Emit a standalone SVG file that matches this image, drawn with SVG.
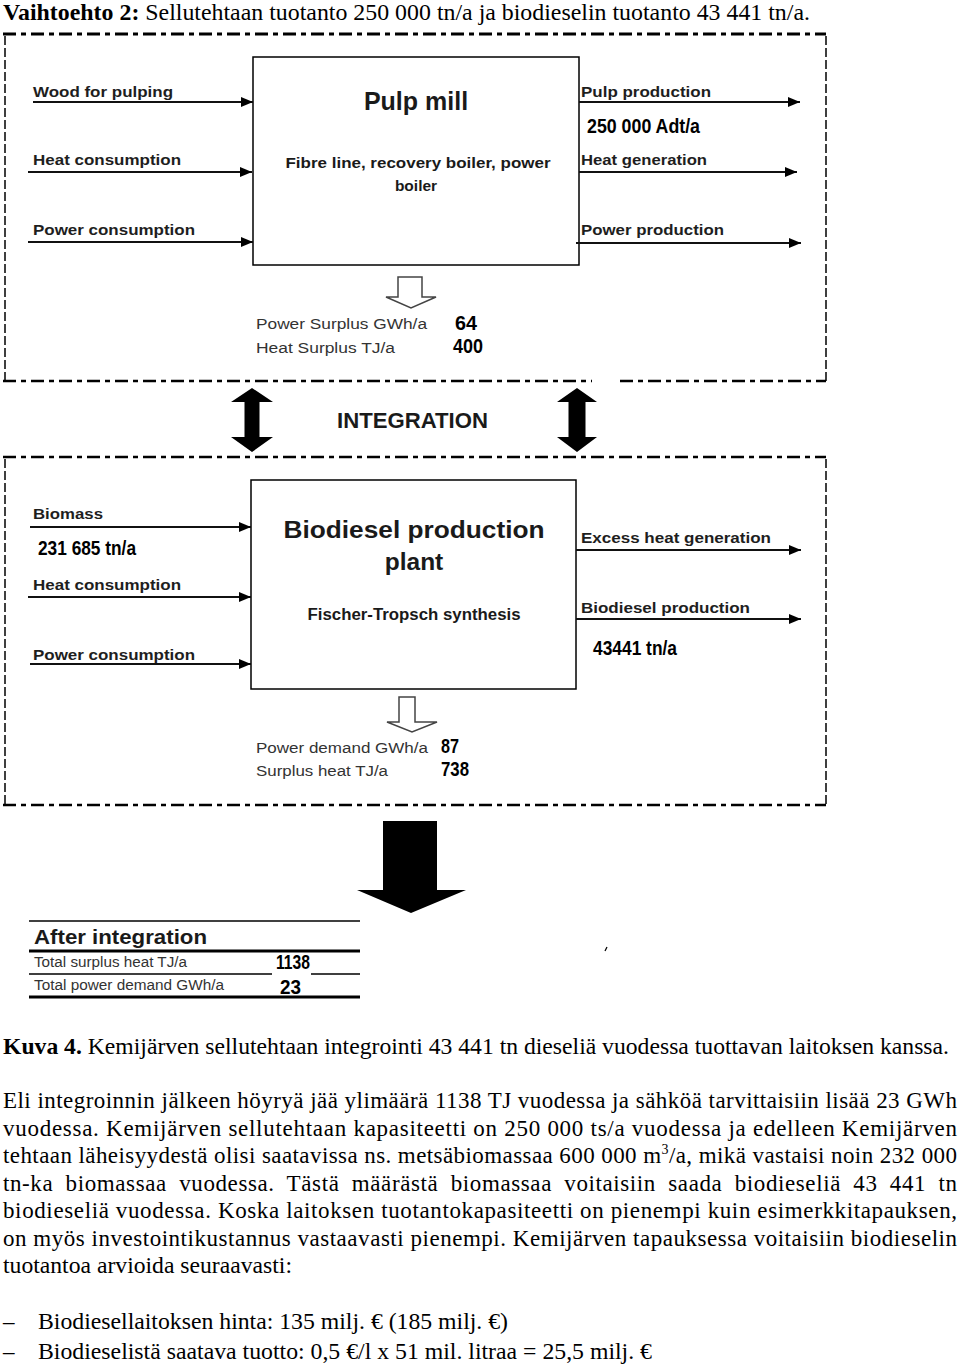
<svg xmlns="http://www.w3.org/2000/svg" width="960" height="1364" viewBox="0 0 960 1364">
<style>
.lbl{font-family:"Liberation Sans",Arial,sans-serif;font-weight:bold;font-size:15.5px;fill:#1e1e1e}
.gl{font-family:"Liberation Sans",Arial,sans-serif;font-size:15.5px;fill:#333}
.ttl{font-family:"Liberation Sans",Arial,sans-serif;font-weight:bold;fill:#1a1a1a}
.num{font-family:"Liberation Sans Narrow","Liberation Sans",Arial,sans-serif;font-weight:bold;fill:#000}
.body{font-family:"Liberation Serif","Times New Roman",serif;font-size:23px;fill:#000}
.b{font-weight:bold}
.flow{stroke:#111;stroke-width:2;fill:none;marker-end:url(#ah)}
.dd{stroke:#000;stroke-width:3;stroke-dasharray:13 5 5 5;fill:none}
.dv{stroke:#000;stroke-width:1.5;stroke-dasharray:9 3;fill:none}
.box{fill:#fff;stroke:#000;stroke-width:1.5}
.hollow{fill:#fff;stroke:#444;stroke-width:1.5}
.tl{stroke:#000;fill:none}
</style>
<defs>
<marker id="ah" viewBox="0 0 12 11" refX="12" refY="5.5" markerWidth="12" markerHeight="11" markerUnits="userSpaceOnUse" orient="auto">
<path d="M0,0.5 L12,5.5 L0,10.5 z" fill="#000"/>
</marker>
</defs>
<rect width="960" height="1364" fill="#fff"/>

<text class="body" x="3" y="20" textLength="807" lengthAdjust="spacingAndGlyphs"><tspan class="b">Vaihtoehto 2:</tspan> Sellutehtaan tuotanto 250 000 tn/a ja biodieselin tuotanto 43 441 tn/a.</text>

<g id="frame-pulp">
<path class="dd" d="M3,34 H826"/>
<path class="dv" d="M5,36 V381"/>
<path class="dv" d="M826,36 V381"/>
<path class="dd" d="M3,381 H592 M620,381 H826" style="stroke-width:2.5"/>
</g>

<g id="pulp-mill">
<rect class="box" x="253" y="57" width="326" height="208"/>
<text class="ttl" x="416" y="110" font-size="25" text-anchor="middle">Pulp mill</text>
<text class="ttl" x="418" y="168" font-size="15.5" text-anchor="middle" textLength="265" lengthAdjust="spacingAndGlyphs">Fibre line, recovery boiler, power</text>
<text class="ttl" x="416" y="191" font-size="15.5" text-anchor="middle">boiler</text>
</g>

<g id="pulp-labels">
<text class="lbl" x="33" y="97" textLength="140" lengthAdjust="spacingAndGlyphs">Wood for pulping</text>
<text class="lbl" x="33" y="165" textLength="148" lengthAdjust="spacingAndGlyphs">Heat consumption</text>
<text class="lbl" x="33" y="235" textLength="162" lengthAdjust="spacingAndGlyphs">Power consumption</text>
<text class="lbl" x="581" y="97" textLength="130" lengthAdjust="spacingAndGlyphs">Pulp production</text>
<text class="num" x="587" y="133" font-size="21" textLength="113" lengthAdjust="spacingAndGlyphs">250 000 Adt/a</text>
<text class="lbl" x="581" y="165" textLength="126" lengthAdjust="spacingAndGlyphs">Heat generation</text>
<text class="lbl" x="581" y="235" textLength="143" lengthAdjust="spacingAndGlyphs">Power production</text>
</g>

<g id="pulp-surplus">
<polygon class="hollow" points="398,277 422,277 422,297 436,297 411,308 386,297 398,297"/>
<text class="gl" x="256" y="329" textLength="171" lengthAdjust="spacingAndGlyphs">Power Surplus  GWh/a</text>
<text class="gl" x="256" y="353" textLength="139" lengthAdjust="spacingAndGlyphs">Heat Surplus TJ/a</text>
<text class="num" x="455" y="330" font-size="20" textLength="22" lengthAdjust="spacingAndGlyphs">64</text>
<text class="num" x="453" y="353" font-size="20" textLength="30" lengthAdjust="spacingAndGlyphs">400</text>
</g>

<g id="integration">
<polygon fill="#000" points="252,388 273,402 259.5,402 259.5,437 273,437 252,452 231,437 244.5,437 244.5,402 231,402"/>
<polygon fill="#000" points="577,388 597,402 585.5,402 585.5,437 597,437 577,452 557,437 568.5,437 568.5,402 557,402"/>
<text class="ttl" x="337" y="428" font-size="22" fill="#222" textLength="151" lengthAdjust="spacingAndGlyphs">INTEGRATION</text>
</g>

<g id="frame-biodiesel">
<path class="dd" d="M3,457 H826" style="stroke-width:2.5"/>
<path class="dv" d="M5,459 V805"/>
<path class="dv" d="M826,459 V805"/>
<path class="dd" d="M3,805 H826" style="stroke-width:2.5"/>
</g>

<g id="biodiesel-plant">
<rect class="box" x="251" y="480" width="325" height="209"/>
<text class="ttl" x="414" y="538" font-size="24.5" text-anchor="middle" textLength="261" lengthAdjust="spacingAndGlyphs">Biodiesel production</text>
<text class="ttl" x="414" y="570" font-size="24.5" text-anchor="middle">plant</text>
<text class="ttl" x="414" y="620" font-size="16" text-anchor="middle" textLength="213" lengthAdjust="spacingAndGlyphs" fill="#222">Fischer-Tropsch synthesis</text>
</g>

<g id="biodiesel-labels">
<text class="lbl" x="33" y="519" textLength="70" lengthAdjust="spacingAndGlyphs">Biomass</text>
<text class="num" x="38" y="555" font-size="20" textLength="98" lengthAdjust="spacingAndGlyphs">231 685 tn/a</text>
<text class="lbl" x="33" y="590" textLength="148" lengthAdjust="spacingAndGlyphs">Heat consumption</text>
<text class="lbl" x="33" y="660" textLength="162" lengthAdjust="spacingAndGlyphs">Power consumption</text>
<text class="lbl" x="581" y="543" textLength="190" lengthAdjust="spacingAndGlyphs">Excess heat generation</text>
<text class="lbl" x="581" y="613" textLength="169" lengthAdjust="spacingAndGlyphs">Biodiesel production</text>
<text class="num" x="593" y="655" font-size="20" textLength="84" lengthAdjust="spacingAndGlyphs">43441 tn/a</text>
</g>

<g id="biodiesel-demand">
<polygon class="hollow" points="399,697 415,697 415,722 437,722 412,732 387,722 399,722"/>
<text class="gl" x="256" y="753" textLength="172" lengthAdjust="spacingAndGlyphs">Power demand GWh/a</text>
<text class="gl" x="256" y="776" textLength="132" lengthAdjust="spacingAndGlyphs">Surplus heat TJ/a</text>
<text class="num" x="441" y="753" font-size="20" textLength="18" lengthAdjust="spacingAndGlyphs">87</text>
<text class="num" x="441" y="776" font-size="20" textLength="28" lengthAdjust="spacingAndGlyphs">738</text>
</g>

<g id="connectors">
<line class="flow" x1="33" y1="102" x2="253" y2="102"/>
<line class="flow" x1="28" y1="172" x2="252" y2="172"/>
<line class="flow" x1="28" y1="242" x2="253" y2="242"/>
<line class="flow" x1="579" y1="102" x2="800" y2="102"/>
<line class="flow" x1="579" y1="172" x2="797" y2="172"/>
<line class="flow" x1="576" y1="243" x2="801" y2="243"/>
<line class="flow" x1="30" y1="527" x2="251" y2="527"/>
<line class="flow" x1="28" y1="597" x2="251" y2="597"/>
<line class="flow" x1="30" y1="664" x2="251" y2="664"/>
<line class="flow" x1="576" y1="550" x2="801" y2="550" stroke="#333"/>
<line class="flow" x1="576" y1="619" x2="801" y2="619" stroke="#333"/>
<polygon fill="#000" points="383,821 437,821 437,890 466,890 411,913 357,890 383,890"/>
</g>

<g id="after-integration">
<path class="tl" stroke-width="1.5" d="M29,921 H360"/>
<text class="ttl" x="34" y="944" font-size="21" fill="#111" textLength="173" lengthAdjust="spacingAndGlyphs">After integration</text>
<path class="tl" stroke-width="3" d="M29,951 H360"/>
<text class="gl" x="34" y="967" font-size="14" fill="#222" textLength="153" lengthAdjust="spacingAndGlyphs">Total surplus heat TJ/a</text>
<text class="num" x="276" y="969" font-size="20" textLength="34" lengthAdjust="spacingAndGlyphs">1138</text>
<path class="tl" stroke-width="1.5" d="M29,974 H272 M311,974 H360"/>
<text class="gl" x="34" y="990" font-size="14" fill="#222" textLength="190" lengthAdjust="spacingAndGlyphs">Total power demand GWh/a</text>
<text class="num" x="280" y="994" font-size="20" textLength="21" lengthAdjust="spacingAndGlyphs">23</text>
<path class="tl" stroke-width="3" d="M29,997 H360"/>
<path class="tl" stroke-width="1.2" d="M605,951 L607,947"/>
</g>

<g id="text-body">
<text class="body" x="3" y="1054" textLength="946" lengthAdjust="spacingAndGlyphs"><tspan class="b">Kuva 4.</tspan> Kemijärven sellutehtaan integrointi 43 441 tn dieseliä vuodessa tuottavan laitoksen kanssa.</text>
<text class="body" x="3" y="1108" textLength="954" lengthAdjust="spacing">Eli integroinnin jälkeen höyryä jää ylimäärä 1138 TJ vuodessa ja sähköä tarvittaisiin lisää 23 GWh</text>
<text class="body" x="3" y="1136" textLength="954" lengthAdjust="spacing">vuodessa. Kemijärven sellutehtaan kapasiteetti on 250 000 ts/a vuodessa ja edelleen Kemijärven</text>
<text class="body" x="3" y="1163" textLength="954" lengthAdjust="spacing">tehtaan läheisyydestä olisi saatavissa ns. metsäbiomassaa 600 000 m<tspan font-size="14" dy="-9">3</tspan><tspan dy="9">/a, mikä vastaisi noin 232 000</tspan></text>
<text class="body" x="3" y="1191" textLength="954" lengthAdjust="spacing" word-spacing="6">tn-ka biomassaa vuodessa. Tästä määrästä biomassaa voitaisiin saada biodieseliä 43 441 tn</text>
<text class="body" x="3" y="1218" textLength="954" lengthAdjust="spacing">biodieseliä vuodessa.  Koska laitoksen tuotantokapasiteetti on pienempi kuin esimerkkitapauksen,</text>
<text class="body" x="3" y="1246" textLength="954" lengthAdjust="spacing">on myös investointikustannus vastaavasti pienempi. Kemijärven tapauksessa voitaisiin biodieselin</text>
<text class="body" x="3" y="1273" textLength="289" lengthAdjust="spacingAndGlyphs">tuotantoa arvioida seuraavasti:</text>
<text class="body" x="3" y="1329">–</text>
<text class="body" x="38" y="1329" textLength="470" lengthAdjust="spacingAndGlyphs">Biodiesellaitoksen hinta: 135 milj. € (185 milj. €)</text>
<text class="body" x="3" y="1359">–</text>
<text class="body" x="38" y="1359" textLength="614" lengthAdjust="spacingAndGlyphs">Biodieselistä saatava tuotto: 0,5 €/l x 51 mil. litraa = 25,5 milj. €</text>
</g>
</svg>
